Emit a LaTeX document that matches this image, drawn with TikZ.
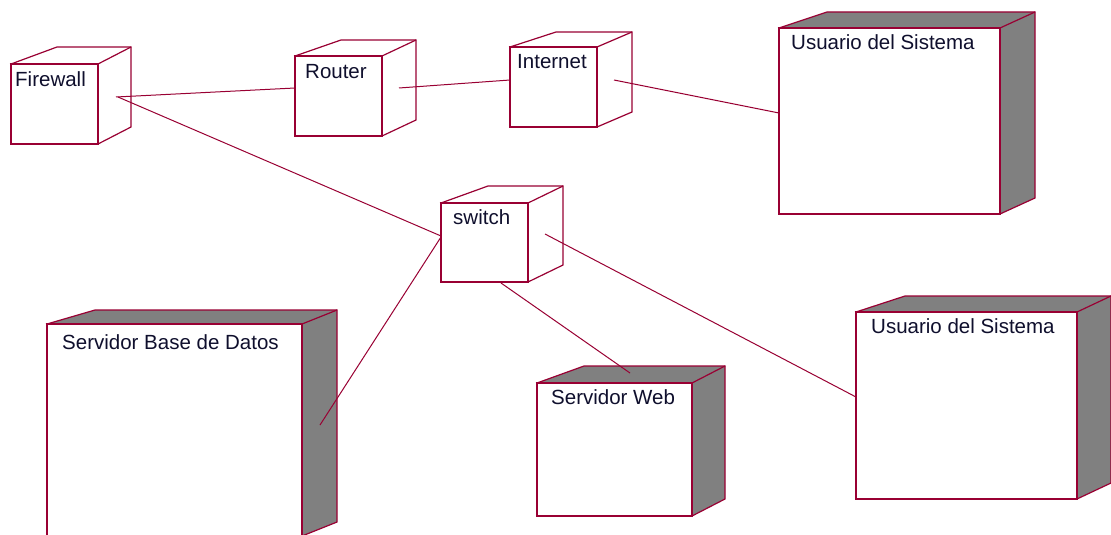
\documentclass[tikz,border=0pt]{standalone}
\usepackage{fontspec}
\setmainfont{Liberation Sans}
\definecolor{rose}{RGB}{153,0,51}
\definecolor{sidegrey}{RGB}{128,128,128}
\definecolor{txt}{RGB}{15,15,45}
\tikzset{
  front/.style={draw=rose, line width=1.2pt, fill=white, rectangle, inner sep=0pt, outer sep=0pt, anchor=north west},
  depth/.style={draw=rose, line width=1.2pt, line join=miter},
  edgeR/.style={draw=rose, line width=2.4pt},
  lbl/.style={anchor=base west, inner sep=0pt, font=\fontsize{20.5}{24}\selectfont, text=txt},
  link/.style={draw=rose, line width=1pt},
}
% #1 name, #2 x, #3 y, #4 w, #5 h, #6 side fill, #7 dxL, #8 dxR, #9 dy
\newcommand\rosenode[9]{%
  \filldraw[depth, fill=#6] (#2,#3) -- ({#2+#7},{#3-#9}) -- ({#2+#4+#8},{#3-#9})
    -- ({#2+#4+#8},{#3+#5-#9}) -- ({#2+#4},{#3+#5}) -- cycle;
  \node[front, minimum width=#4pt, minimum height=#5pt] (#1) at (#2,#3) {};
  \draw[depth] ({#2+#4},{#3}) -- ({#2+#4+#8},{#3-#9});
  \draw[edgeR] ({#2+#4},{#3}) -- ({#2+#4},{#3+#5});
}
\begin{document}
\begin{tikzpicture}[x=1pt,y=-1pt]
\useasboundingbox (0,0) rectangle (1111,535);
\clip (0,0) rectangle (1111,535);
\fill[white] (0,0) rectangle (1111,535);

\rosenode{firewall}{11}{64}{87}{80}{white}{46}{33}{17}
\rosenode{router}{295}{56}{87}{80}{white}{46}{34}{16}
\rosenode{internet}{510}{47}{87}{80}{white}{46}{35}{15}
\rosenode{usuario1}{779}{28}{221}{186}{sidegrey}{48}{35}{16}
\rosenode{switch}{441}{203}{87}{79}{white}{47}{35}{17}
\rosenode{servbd}{47}{324}{255}{212}{sidegrey}{48}{35}{14}
\rosenode{servweb}{537}{383}{155}{133}{sidegrey}{47}{33}{17}
\rosenode{usuario2}{856}{312}{221}{187}{sidegrey}{49}{34}{16}

\node[lbl] (tfirewall) at (15,86) {Firewall};
\node[lbl] (trouter) at (305,78) {Router};
\node[lbl] (tinternet) at (517,69) {Internet};
\node[lbl] (tusuario1) at (791,49) {Usuario del Sistema};
\node[lbl] (tswitch) at (453,224) {switch};
\node[lbl] (tservbd) at (62,349) {Servidor Base de Datos};
\node[lbl] (tservweb) at (551,404) {Servidor Web};
\node[lbl] (tusuario2) at (871,333) {Usuario del Sistema};

% connector end points
\coordinate (fwA) at (116,97);
\coordinate (fwB) at (118,97);
\coordinate (rtA) at (295,88);
\coordinate (rtB) at (399,88);
\coordinate (inA) at (510,80);
\coordinate (inB) at (614,80);
\coordinate (u1A) at (779,113);
\coordinate (swA) at (441,236);
\coordinate (swB) at (441,237);
\coordinate (swC) at (501,283);
\coordinate (swD) at (545,234);
\coordinate (bdA) at (320,425);
\coordinate (wbA) at (630,373);
\coordinate (u2A) at (856,397);

\draw[link] (fwA) -- (rtA);
\draw[link] (rtB) -- (inA);
\draw[link] (inB) -- (u1A);
\draw[link] (fwB) -- (swA);
\draw[link] (swB) -- (bdA);
\draw[link] (swC) -- (wbA);
\draw[link] (swD) -- (u2A);
\end{tikzpicture}
\end{document}
